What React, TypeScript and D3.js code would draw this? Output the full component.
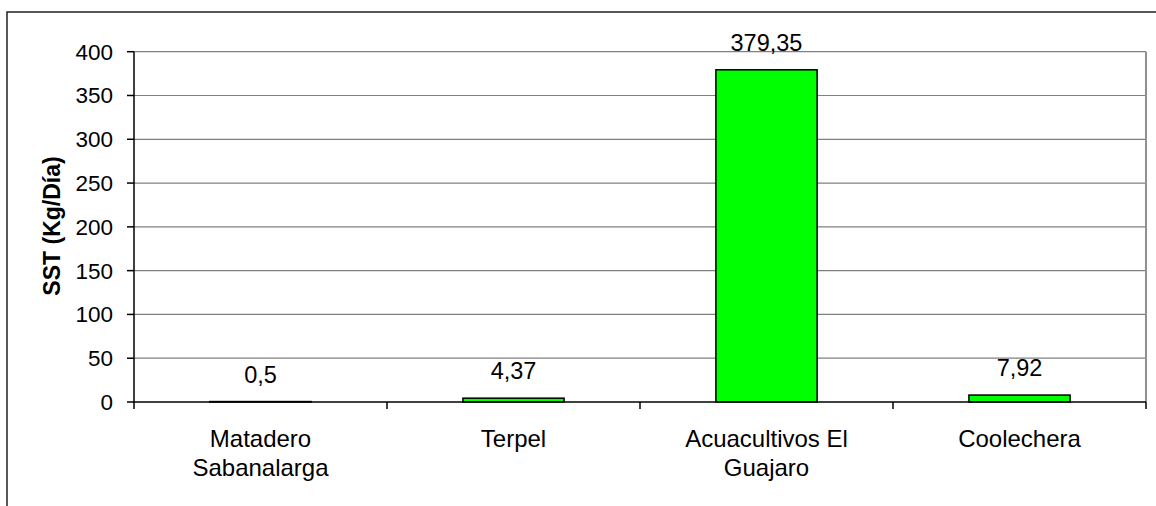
import * as d3 from 'd3';
import React, { useEffect, useRef } from 'react';

const categories = [['Matadero', 'Sabanalarga'], ['Terpel'], ['Acuacultivos El', 'Guajaro'], ['Coolechera']];
const values = [0.5, 4.37, 379.35, 7.92];
const valueLabels = ['0,5', '4,37', '379,35', '7,92'];
const yTicks = [0, 50, 100, 150, 200, 250, 300, 350, 400];

const W = 1156;
const H = 506;

const App = () => {
  const ref = useRef<SVGSVGElement>(null);

  useEffect(() => {
    const svg = d3.select(ref.current);
    svg.selectAll('*').remove();
    const font = '"Liberation Sans", Arial, sans-serif';
    const margin = { top: 51.7, right: 10, bottom: 104, left: 134 };
    const w = W - margin.left - margin.right;
    const h = H - margin.top - margin.bottom;

    // outer frame (cropped at right and bottom)
    svg.append('path')
      .attr('d', `M7,${H} L7,12 L${W},12`)
      .attr('fill', 'none')
      .attr('stroke', '#222')
      .attr('stroke-width', 1.5);

    const g = svg.append('g').attr('transform', `translate(${margin.left},${margin.top})`);

    const x = d3.scaleBand<number>().domain(d3.range(values.length)).range([0, w]).paddingInner(0.6).paddingOuter(0.3);
    const xOuter = d3.scaleBand<number>().domain(d3.range(values.length)).range([0, w]);
    const y = d3.scaleLinear().domain([0, 400]).range([h, 0]);

    // gridlines
    g.selectAll('.grid')
      .data(yTicks.filter(d => d > 0))
      .enter().append('line')
      .attr('x1', 0).attr('x2', w)
      .attr('y1', d => y(d)).attr('y2', d => y(d))
      .attr('stroke', '#808080')
      .attr('stroke-width', 1.2);

    // right plot border
    g.append('line')
      .attr('x1', w).attr('x2', w).attr('y1', 0).attr('y2', h)
      .attr('stroke', '#909090').attr('stroke-width', 2);

    // bars
    g.selectAll('.bar')
      .data(values)
      .enter().append('rect')
      .attr('x', (d, i) => x(i) as number)
      .attr('width', x.bandwidth())
      .attr('y', d => y(d))
      .attr('height', d => h - y(d))
      .attr('fill', '#00ff00')
      .attr('stroke', '#000')
      .attr('stroke-width', 1.5);

    // value labels
    g.selectAll('.val')
      .data(values)
      .enter().append('text')
      .attr('x', (d, i) => (x(i) as number) + x.bandwidth() / 2)
      .attr('y', d => y(d) - 19)
      .attr('text-anchor', 'middle')
      .attr('font-family', font)
      .attr('font-size', 23.5)
      .attr('fill', '#000')
      .text((d, i) => valueLabels[i]);

    // y axis
    g.append('line')
      .attr('x1', 0).attr('x2', 0).attr('y1', 0).attr('y2', h)
      .attr('stroke', '#000').attr('stroke-width', 1.5);
    g.selectAll('.ytick')
      .data(yTicks)
      .enter().append('line')
      .attr('x1', -7).attr('x2', 0)
      .attr('y1', d => y(d)).attr('y2', d => y(d))
      .attr('stroke', '#000').attr('stroke-width', 1.5);
    g.selectAll('.ylab')
      .data(yTicks)
      .enter().append('text')
      .attr('x', -21)
      .attr('y', d => y(d))
      .attr('dy', '0.35em')
      .attr('text-anchor', 'end')
      .attr('font-family', font)
      .attr('font-size', 22.5)
      .text(d => d);

    // x axis
    g.append('line')
      .attr('x1', 0).attr('x2', w).attr('y1', h).attr('y2', h)
      .attr('stroke', '#000').attr('stroke-width', 1.5);
    g.selectAll('.xtick')
      .data(d3.range(values.length + 1))
      .enter().append('line')
      .attr('x1', d => d * xOuter.step()).attr('x2', d => d * xOuter.step())
      .attr('y1', h).attr('y2', h + 7)
      .attr('stroke', '#000').attr('stroke-width', 1.5);

    const cat = g.selectAll('.cat')
      .data(categories)
      .enter().append('text')
      .attr('text-anchor', 'middle')
      .attr('font-family', font)
      .attr('font-size', 24)
      .attr('transform', (d, i) => `translate(${(xOuter(i) as number) + xOuter.bandwidth() / 2},${h + 45})`);
    cat.selectAll('tspan')
      .data(d => d)
      .enter().append('tspan')
      .attr('x', 0)
      .attr('y', (d, i) => i * 29)
      .text(d => d);

    // y title
    svg.append('text')
      .attr('transform', `translate(60,226) rotate(-90)`)
      .attr('text-anchor', 'middle')
      .attr('font-family', font)
      .attr('font-weight', 'bold')
      .attr('font-size', 23)
      .text('SST (Kg/Día)');
  }, []);

  return (
    <div style={{ position: 'absolute', left: 0, top: 0 }}>
      <svg ref={ref} width={W} height={H} style={{ display: 'block', background: '#fff' }} />
    </div>
  );
};

export default App;
